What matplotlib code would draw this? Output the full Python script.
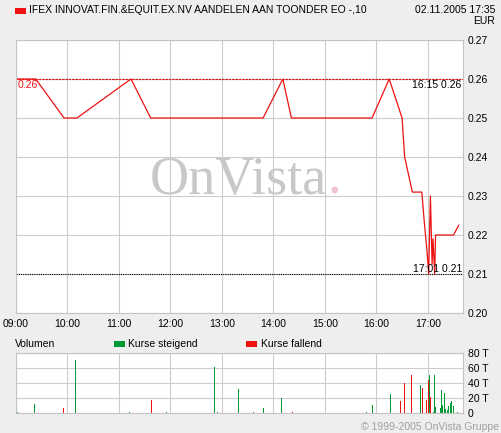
import matplotlib
matplotlib.use("Agg")
from matplotlib import pyplot as plt
from matplotlib.patches import Rectangle
from matplotlib.ticker import FuncFormatter

plt.rcParams["font.family"] = ["Liberation Sans", "DejaVu Sans"]

# price series (EUR)
price_times = ["09:00", "09:23", "09:56", "10:11", "11:14", "11:37", "13:48", "14:11",
               "14:21", "15:55", "16:15", "16:30", "16:33", "16:42", "16:53", "16:56",
               "16:59", "17:01", "17:03", "17:05", "17:06", "17:08", "17:09", "17:30", "17:36"]
prices = [0.26, 0.26, 0.25, 0.25, 0.26, 0.25, 0.25, 0.26,
          0.25, 0.25, 0.26, 0.25, 0.24, 0.231, 0.231, 0.223,
          0.216, 0.21, 0.23, 0.2125, 0.219, 0.21, 0.22, 0.22, 0.2225]

# volume (thousands)
up_times = ["09:02", "09:21", "10:09", "11:12", "11:55", "12:51", "12:55", "13:19", "13:37",
            "13:48", "14:10", "15:48", "15:55", "16:16", "16:51", "17:02", "17:07", "17:08",
            "17:09", "17:15", "17:16", "17:17", "17:19", "17:21", "17:23", "17:24", "17:26",
            "17:27", "17:28", "17:30", "17:35"]
up_vol = [2, 12, 71, 2, 2, 62, 2, 32, 2,
          7, 20, 2, 11, 26, 38, 51, 1.5, 51,
          7.5, 6.5, 31, 11, 27, 6, 4.5, 9, 14,
          9, 15.5, 10, 2]
down_times = ["09:55", "11:38", "14:22", "16:28", "16:33", "16:41", "16:54", "16:58", "17:01", "17:03"]
down_vol = [7, 17, 2, 16.5, 40.5, 51, 33, 18, 44.5, 21]

hour_labels = ["09:00", "10:00", "11:00", "12:00", "13:00", "14:00", "15:00", "16:00", "17:00"]
price_ticks = [0.20, 0.21, 0.22, 0.23, 0.24, 0.25, 0.26, 0.27]
vol_ticks = [0, 20, 40, 60, 80]


def mins(t):
    h, m = t.split(":")
    return (int(h) - 9) * 60 + int(m)


W, H = 501, 433
bg = "#eeeeee"
grid_c = "#cccccc"
red = "#ee1111"
green = "#009933"
fs = 7.5

fig = plt.figure(figsize=(W / 100, H / 100), dpi=100, facecolor=bg)


def fx(px):
    return px / W


def fy(py):
    return 1 - py / H


ax = fig.add_axes([fx(16), fy(313), fx(447), 273 / H])
axv = fig.add_axes([fx(16), fy(413), fx(447), 60 / H])

xmax = 521
for a in (ax, axv):
    a.set_facecolor("white")
    a.set_xlim(0, xmax)
    a.set_xticks([mins(t) for t in hour_labels])
    a.grid(True, color=grid_c, lw=0.8)
    a.set_axisbelow(True)
    for s in a.spines.values():
        s.set_color("#c4c4c4")
        s.set_linewidth(0.8)
    a.yaxis.tick_right()
    a.tick_params(length=0, labelsize=fs, pad=3.6)

# main price chart
ax.set_ylim(0.20, 0.27)
ax.set_yticks(price_ticks)
ax.yaxis.set_major_formatter(FuncFormatter(lambda v, p: f"{v:.2f}"))
ax.set_xticklabels(hour_labels)
ax.tick_params(axis="x", pad=4)

ax.axhline(0.26, color="black", lw=0.8, ls=(0, (1, 2)))
ax.axhline(0.26, color=red, lw=0.8, ls=(1, (2, 1)))
ax.axhline(0.21, color="black", lw=0.8, ls=(0, (1, 1)))

ax.plot([mins(t) for t in price_times], prices, color=red, lw=0.9)

ax.text(0.30, 0.436, "OnVista", transform=ax.transAxes, family="Liberation Serif",
        fontsize=39, color="#c8c8c8", va="baseline", ha="left", zorder=0.5)
ax.text(0.697, 0.436, ".", transform=ax.transAxes, family="Liberation Serif",
        fontsize=39, color="#f0c4cc", va="baseline", ha="left", zorder=0.5)

ax.text(fx(18), fy(85), "0.26", transform=fig.transFigure, color=red, fontsize=fs,
        va="center", ha="left")
ax.text(fx(461), fy(85), "16:15 0.26", transform=fig.transFigure, color="black",
        fontsize=fs, va="center", ha="right")
ax.text(fx(462), fy(269), "17:01 0.21", transform=fig.transFigure, color="black",
        fontsize=fs, va="center", ha="right")

# volume chart
axv.set_ylim(0, 80)
axv.set_yticks(vol_ticks)
axv.yaxis.set_major_formatter(FuncFormatter(lambda v, p: "0" if v == 0 else f"{v:.0f} T"))
axv.set_xticklabels([])
axv.bar([mins(t) for t in up_times], up_vol, width=1.2, color=green, lw=0)
axv.bar([mins(t) for t in down_times], down_vol, width=1.2, color=red, lw=0)

# header
fig.patches.append(Rectangle((fx(15), fy(14)), fx(11), 6 / H, transform=fig.transFigure,
                             color=red, lw=0))
fig.text(fx(29), fy(10), "IFEX INNOVAT.FIN.&EQUIT.EX.NV AANDELEN AAN TOONDER EO -,10",
         fontsize=fs, va="center", ha="left")
fig.text(fx(495), fy(10), "02.11.2005 17:35", fontsize=fs, va="center", ha="right")
fig.text(fx(495), fy(21), "EUR", fontsize=fs, va="center", ha="right")

# volume legend
fig.text(fx(15), fy(344), "Volumen", fontsize=fs, va="center", ha="left")
fig.patches.append(Rectangle((fx(114), fy(347)), fx(11), 6 / H, transform=fig.transFigure,
                             color=green, lw=0))
fig.text(fx(128), fy(344), "Kurse steigend", fontsize=fs, va="center", ha="left")
fig.patches.append(Rectangle((fx(246), fy(347)), fx(11), 6 / H, transform=fig.transFigure,
                             color=red, lw=0))
fig.text(fx(261), fy(344), "Kurse fallend", fontsize=fs, va="center", ha="left")

fig.text(fx(499), fy(427), "\u00a9 1999-2005 OnVista Gruppe", fontsize=fs,
         color="#a0a0a0", va="center", ha="right")

fig.savefig("out.png", dpi=100, facecolor=bg)
